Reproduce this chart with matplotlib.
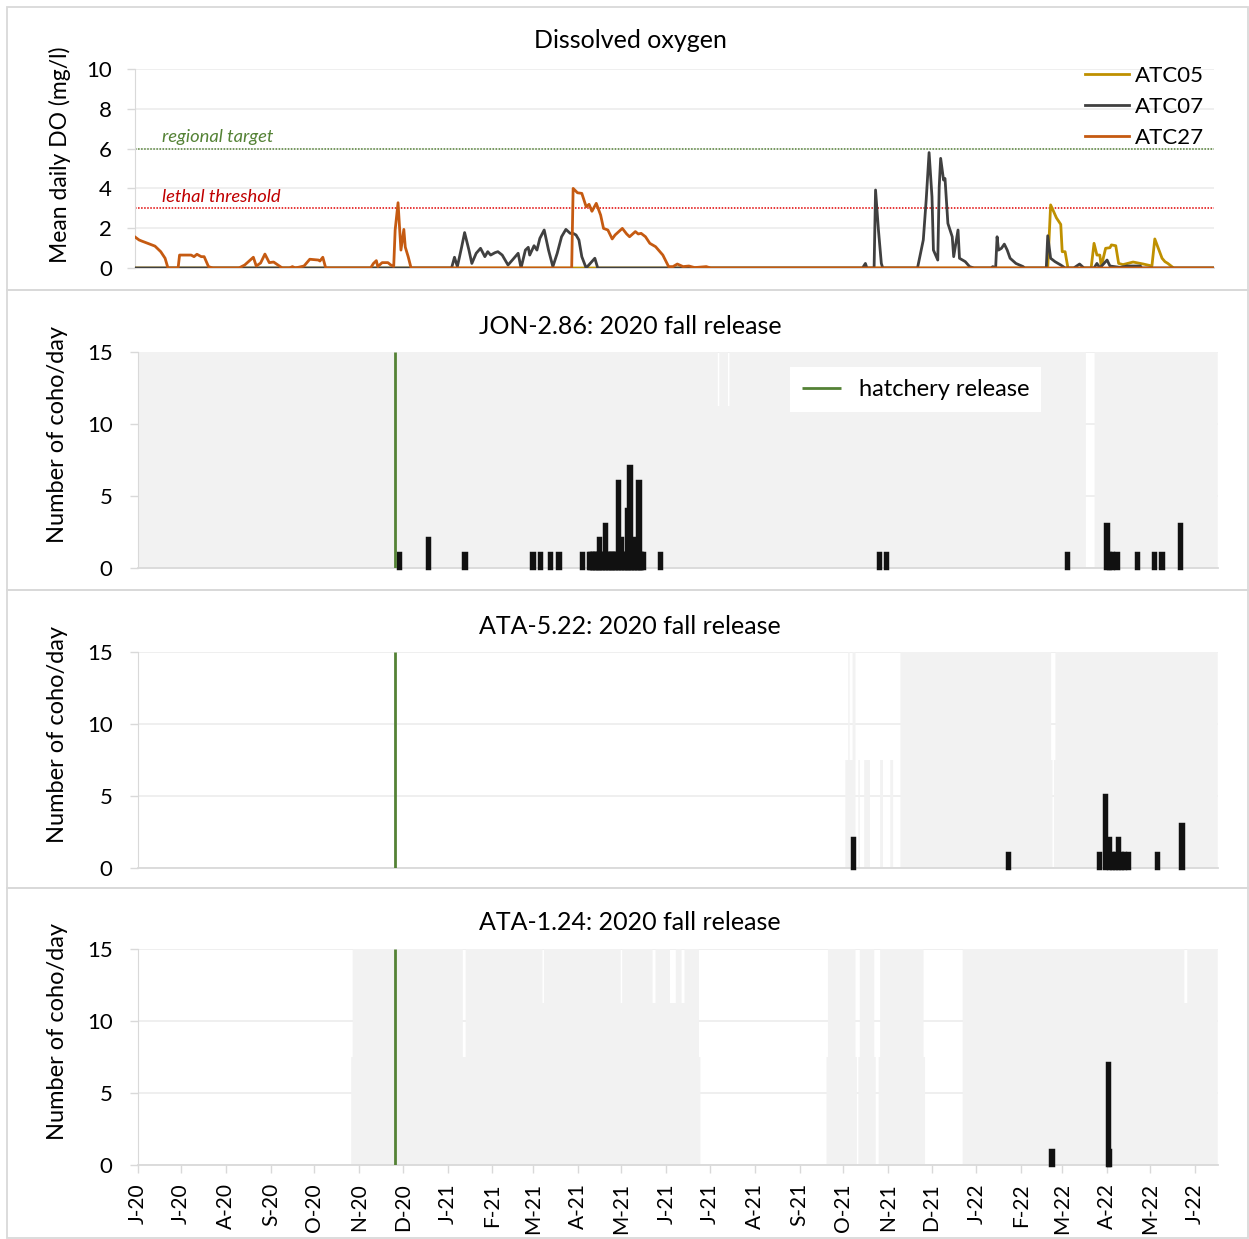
import numpy as np
import pandas as pd
import matplotlib
matplotlib.use("Agg")
import matplotlib.pyplot as plt
import matplotlib.dates as mdates
from matplotlib.patches import Rectangle

plt.rcParams["font.family"] = ["Lato", "DejaVu Sans"]

W, H = 1249, 1239
START = pd.Timestamp("2020-06-01")
LAST_DAY = "2022-06-16"

# mean daily DO, logged as days since START and mg/l
atc05_day = [0, 631, 633, 635, 637, 640, 641, 643, 644, 645, 661, 663, 665, 667, 668, 671, 674, 675,
             678, 680, 683, 690, 697, 703, 705, 707, 710, 712, 714, 718, 745]
atc05_do = [0, 0, 3.17, 2.85, 2.52, 2.19, 0.82, 0.82, 0.4, 0, 0, 1.24, 0.65, 0.65, 0.07, 0.99, 1.02, 1.16,
            1.12, 0.23, 0.17, 0.3, 0.2, 0.1, 1.46, 1.07, 0.49, 0.32, 0.23, 0, 0]

atc07_day = [0, 219, 221, 223, 226, 228, 231, 233, 236, 239, 242, 244, 246, 249, 251, 254, 258, 261,
             265, 267, 270, 272, 273, 276, 278, 280, 283, 286, 289, 292, 295, 298, 301, 303, 305, 307,
             309, 312, 318, 320, 503, 505, 506, 511, 512, 514, 516, 517, 541, 545, 547, 549, 551, 552,
             555, 556, 557, 559, 560, 562, 565, 566, 569, 570, 574, 577, 580, 592, 593, 595, 596, 597,
             599, 601, 603, 605, 609, 614, 615, 630, 631, 633, 636, 640, 643, 649, 653, 656, 663, 665,
             667, 672, 674, 681, 686, 695, 696, 745]
atc07_do = [0, 0, 0.54, 0.07, 1.07, 1.78, 0.9, 0.23, 0.74, 0.99, 0.57, 0.82, 0.65, 0.77, 0.82, 0.65, 0.15, 0.4,
            0.74, 0, 0.9, 1.04, 0.65, 1.12, 0.9, 1.49, 1.91, 0.9, 0.07, 0.74, 1.57, 1.94, 1.74, 1.74, 1.66, 1.41,
            0.57, 0, 0.49, 0, 0, 0.23, 0, 0, 3.92, 1.91, 0.23, 0, 0, 1.41, 3.42, 5.8, 3.58, 0.9,
            0.4, 4.08, 5.51, 4.42, 4.5, 2.24, 1.57, 0.57, 1.91, 0.49, 0.32, 0.07, 0, 0, 0.07, 0, 1.57, 0.9,
            0.99, 1.2, 0.9, 0.49, 0.23, 0.07, 0, 0, 1.62, 0.49, 0.32, 0.15, 0, 0, 0.2, 0, 0, 0.23,
            0, 0.4, 0.1, 0.03, 0.1, 0.1, 0, 0]

atc27_day = [0, 3, 5, 9, 14, 18, 21, 23, 30, 31, 39, 41, 43, 46, 48, 51, 54, 72, 76, 82, 84, 87, 90,
             93, 96, 99, 102, 107, 109, 111, 117, 121, 127, 128, 130, 132, 163, 165, 167, 168, 171,
             175, 177, 179, 180, 182, 184, 186, 187, 189, 191, 302, 303, 306, 309, 312, 314, 316, 319,
             322, 324, 327, 330, 332, 337, 340, 342, 346, 348, 350, 353, 356, 360, 365, 369, 372, 375,
             379, 383, 387, 395, 398, 745]
atc27_do = [1.57, 1.41, 1.35, 1.24, 1.1, 0.82, 0.49, 0, 0, 0.65, 0.65, 0.57, 0.69, 0.57, 0.57, 0.07, 0, 0,
            0.15, 0.54, 0.1, 0.25, 0.7, 0.27, 0.3, 0.15, 0, 0, 0.07, 0, 0.1, 0.44, 0.4, 0.35, 0.54, 0,
            0, 0.23, 0.37, 0.07, 0.27, 0.27, 0.15, 0.08, 1.91, 3.28, 0.9, 1.94, 1.05, 0.57, 0, 0, 4.0,
            3.78, 3.75, 3.08, 3.2, 2.85, 3.25, 2.66, 1.99, 1.91, 1.46, 1.66, 1.99, 1.71, 1.57, 1.83,
            1.71, 1.74, 1.57, 1.24, 1.07, 0.65, 0.07, 0.07, 0.2, 0.07, 0.1, 0.02, 0.07, 0, 0]

regional_target = 6
lethal_threshold = 3

tick_labels = ["J-20", "J-20", "A-20", "S-20", "O-20", "N-20", "D-20", "J-21", "F-21", "M-21",
               "A-21", "M-21", "J-21", "J-21", "A-21", "S-21", "O-21", "N-21", "D-21", "J-22",
               "F-22", "M-22", "A-22", "M-22", "J-22"]

release_date = "2020-11-26"

# coho caught per day
jon_dates = ["2020-11-29", "2020-12-19", "2021-01-13", "2021-03-01", "2021-03-06", "2021-03-13",
             "2021-03-19", "2021-04-04", "2021-05-28", "2021-10-26", "2021-10-31", "2022-03-05",
             "2022-04-01", "2022-04-03", "2022-04-05", "2022-04-08", "2022-04-22", "2022-05-04",
             "2022-05-09", "2022-05-22"]
jon_counts = [1, 2, 1, 1, 1, 1, 1, 1, 1, 1, 1, 1, 3, 1, 1, 1, 1, 1, 1, 3]
# spring 2021 outmigration, one value per day from 2021-04-09
jon_peak_start = "2021-04-09"
jon_peak_counts = [1, 1, 1, 1, 1, 1, 1, 2, 1, 1, 1, 3, 1, 1, 1, 1, 1, 1, 1, 1, 6, 1, 2, 1, 1, 1,
                   4, 1, 7, 1, 2, 1, 1, 1, 6, 1, 1, 1]

ata522_dates = ["2021-10-08", "2022-01-23", "2022-03-27", "2022-03-31", "2022-04-03", "2022-04-05",
                "2022-04-07", "2022-04-09", "2022-04-11", "2022-04-13", "2022-04-16", "2022-05-06",
                "2022-05-23"]
ata522_counts = [2, 1, 1, 5, 2, 1, 1, 2, 1, 1, 1, 1, 3]

ata124_dates = ["2022-02-22", "2022-04-02", "2022-04-03"]
ata124_counts = [1, 7, 1]

# trap fishing effort: (first day, last day, bar height), later runs override earlier ones
jon_effort = [("2020-06-01", LAST_DAY, 15), ("2021-07-07", "2021-07-07", 11.25),
              ("2021-07-14", "2021-07-14", 11.25), ("2022-03-18", "2022-03-23", 0)]

ata522_effort = [("2021-10-03", "2021-10-04", 7.5), ("2021-10-05", "2021-10-05", 15),
                 ("2021-10-06", "2021-10-07", 7.5), ("2021-10-08", "2021-10-09", 15),
                 ("2021-10-12", "2021-10-12", 7.5), ("2021-10-16", "2021-10-19", 7.5),
                 ("2021-10-27", "2021-10-28", 7.5), ("2021-11-03", "2021-11-04", 7.5),
                 ("2021-11-10", LAST_DAY, 15), ("2022-02-22", "2022-02-22", 7.5),
                 ("2022-02-23", "2022-02-23", 0), ("2022-02-24", "2022-02-24", 7.5)]

ata124_effort = [("2020-10-27", "2020-10-27", 7.5), ("2020-10-28", "2021-06-23", 15),
                 ("2021-01-12", "2021-01-13", 7.5), ("2021-03-08", "2021-03-08", 11.25),
                 ("2021-05-01", "2021-05-01", 11.25), ("2021-05-23", "2021-05-24", 11.25),
                 ("2021-06-04", "2021-06-07", 11.25), ("2021-06-12", "2021-06-13", 11.25),
                 ("2021-06-24", "2021-06-24", 7.5),
                 ("2021-09-20", "2021-09-20", 7.5), ("2021-09-21", "2021-11-25", 15),
                 ("2021-10-10", "2021-10-10", 7.5), ("2021-10-11", "2021-10-11", 0),
                 ("2021-10-12", "2021-10-12", 7.5), ("2021-10-23", "2021-10-23", 7.5),
                 ("2021-10-24", "2021-10-25", 0), ("2021-10-26", "2021-10-26", 7.5),
                 ("2021-11-26", "2021-11-26", 7.5), ("2021-12-23", LAST_DAY, 15),
                 ("2022-05-25", "2022-05-26", 11.25)]

GREY = "#D9D9D9"
GRID = "#ECECEC"
GREEN = "#548235"
x0 = START
x1 = START + pd.Timedelta(days=745.7)
month_ticks = pd.date_range("2020-06-01", "2022-06-01", freq="MS")
days = pd.date_range(START, LAST_DAY)


def daily(runs):
    s = pd.Series(0.0, index=days)
    for a, b, v in runs:
        s[a:b] = v
    return s


def add_axes(fig, left, top, right, bottom):
    return fig.add_axes([left / W, 1 - bottom / H, (right - left) / W, (bottom - top) / H])


def style(ax, ymax, step, pad):
    ax.set_xlim(x0, x1)
    ax.set_ylim(0, ymax)
    ax.set_yticks(np.arange(0, ymax + 1, step))
    ax.set_xticks(month_ticks)
    ax.tick_params(axis="x", length=0, labelbottom=False)
    ax.tick_params(axis="y", length=6, width=1, color=GREY, pad=pad, labelsize=16)
    for s in ["top", "right"]:
        ax.spines[s].set_visible(False)
    ax.spines["left"].set_color(GREY)
    ax.spines["bottom"].set_color(GREY)
    ax.spines["bottom"].set_linewidth(1.3)
    ax.set_axisbelow(True)
    ax.yaxis.grid(True, color=GRID, lw=1.2)


fig = plt.figure(figsize=(W / 100, H / 100), dpi=100)

# chart frames
for top, bottom in [(7, 290), (290, 590), (590, 888), (888, 1238)]:
    fig.add_artist(Rectangle((7 / W, 1 - bottom / H), (1248 - 7) / W, (bottom - top) / H,
                             transform=fig.transFigure, fill=False, edgecolor=GREY, lw=1.3))

# dissolved oxygen
ax = add_axes(fig, 134.7, 69, 1213.7, 268)
style(ax, 10, 2, 10.5)
series = [("ATC05", atc05_day, atc05_do, "#BF9000"),
          ("ATC07", atc07_day, atc07_do, "#404040"),
          ("ATC27", atc27_day, atc27_do, "#C55A11")]
for name, d, v, c in series:
    t = START + pd.to_timedelta(d, unit="D")
    ax.plot(t, v, color=c, lw=2.0, label=name, solid_joinstyle="round", zorder=3)
ax.axhline(regional_target, color=GREEN, lw=1.1, ls=(0, (1, 1)), zorder=2)
ax.axhline(lethal_threshold, color="#E00000", lw=1.1, ls=(0, (1, 1)), zorder=2)
ax.text((162 - 134.7) / 1079, (268 - 137) / 199, "regional target", transform=ax.transAxes,
        color=GREEN, style="italic", fontsize=13.2, va="center", ha="left")
ax.text((162 - 134.7) / 1079, (268 - 197) / 199, "lethal threshold", transform=ax.transAxes,
        color="#C00000", style="italic", fontsize=13.2, va="center", ha="left")
ax.legend(loc="upper right", bbox_to_anchor=(0.991, 1.016), frameon=False, fontsize=16,
          handlelength=2.0, handletextpad=0.25, labelspacing=0.49, borderaxespad=0, borderpad=0)
ax.set_ylabel("Mean daily DO (mg/l)", fontsize=16.5)
ax.yaxis.label.set_va("center")
ax.yaxis.set_label_coords((60 - 134.7) / 1079, (268 - 155) / 199)
fig.text(630 / W, 1 - 41 / H, "Dissolved oxygen", ha="center", va="center", fontsize=18)

# coho counts at the three traps
panels = [
    ("JON-2.86: 2020 fall release", 352, 568, 326, jon_effort, jon_dates, jon_counts),
    ("ATA-5.22: 2020 fall release", 652, 868, 626, ata522_effort, ata522_dates, ata522_counts),
    ("ATA-1.24: 2020 fall release", 949, 1165, 923, ata124_effort, ata124_dates, ata124_counts),
]
edges = mdates.date2num(days) - 0.5
edges = np.append(edges, edges[-1] + 1)
axes = []
for i, (title, top, bottom, ty, effort, dates, counts) in enumerate(panels):
    ax = add_axes(fig, 137.5, top, 1218, bottom)
    style(ax, 15, 5, 12)
    ax.stairs(daily(effort).values, edges, fill=True, color="#F2F2F2", lw=0, zorder=1)
    d = pd.to_datetime(dates)
    c = list(counts)
    if i == 0:
        d = d.append(pd.date_range(jon_peak_start, periods=len(jon_peak_counts)))
        c = c + jon_peak_counts
    ax.bar(d, c, width=1, color="#111111", edgecolor="#111111", lw=3.2, zorder=3, clip_on=False)
    ax.vlines(pd.Timestamp(release_date), 0, 15, color=GREEN, lw=2, zorder=4, label="hatchery release")
    ax.set_ylabel("Number of coho/day", fontsize=17)
    ax.yaxis.label.set_va("center")
    ax.yaxis.set_label_coords((58 - 137.5) / 1080.5, 0.616)
    fig.text(630 / W, 1 - ty / H, title, ha="center", va="center", fontsize=18)
    axes.append(ax)

leg = axes[0].legend(loc="upper left", bbox_to_anchor=(0.604, 0.93), frameon=True, fontsize=17,
                     fancybox=False, framealpha=1, facecolor="white", edgecolor="none",
                     handlelength=1.65, handletextpad=0.75, borderpad=0.5, borderaxespad=0)

bax = axes[-1]
bax.set_xticks(month_ticks)
bax.set_xticklabels(tick_labels, rotation=90, fontsize=15)
bax.tick_params(axis="x", length=6, width=1, color=GREY, pad=7, labelbottom=True)

fig.savefig("out.png", dpi=100)
